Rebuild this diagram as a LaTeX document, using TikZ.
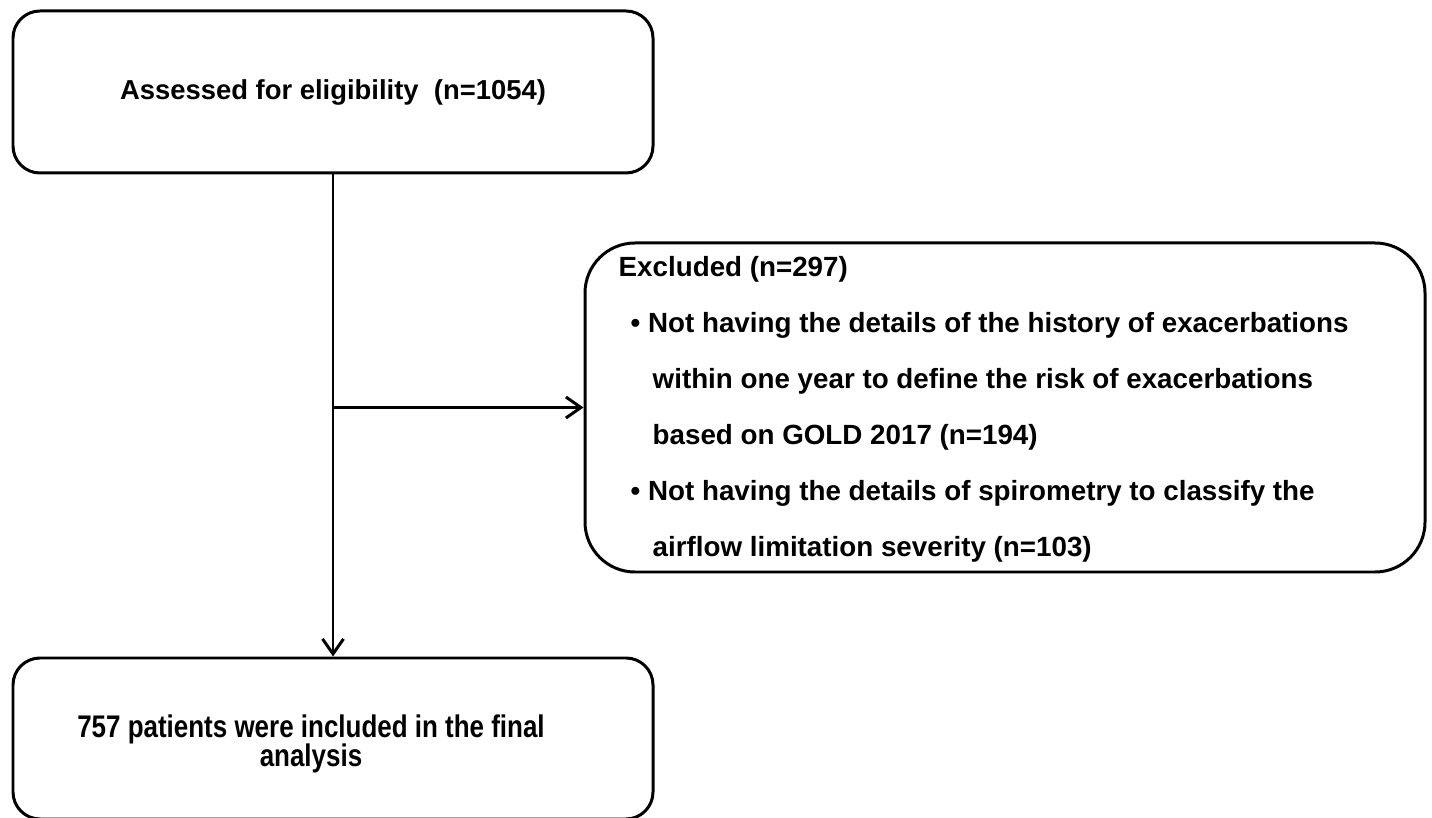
\documentclass[tikz,border=0pt]{standalone}
\usepackage{fontspec}
\setmainfont{Liberation Sans}
\newfontfamily\narrowsans[FakeStretch=0.83]{Liberation Sans}
\usepackage{tikz}
\usetikzlibrary{
  arrows.meta,
  positioning,
}
\tikzset{
  flowbox/.style={
    rectangle, rounded corners=2.7mm, draw=black, line width=0.85pt,
    minimum width=6.4cm, minimum height=1.62cm, inner sep=0pt,
    font=\fontsize{7.8}{9}\selectfont\bfseries, align=center,
  },
  exclbox/.style={
    rectangle, rounded corners=5mm, draw=black, line width=0.85pt,
    minimum width=8.4cm, minimum height=3.29cm, inner sep=0pt,
  },
  exclline/.style={
    anchor=base west, inner sep=0pt,
    font=\fontsize{7.9}{9}\selectfont\bfseries,
  },
  arrowFlow/.style={
    -{Straight Barb[length=1.5mm,width=2.1mm]}, line width=0.85pt, draw=black,
  },
}
\begin{document}
\begin{tikzpicture}
\useasboundingbox (0,0) rectangle (14.32,8.17);

% boxes
\node[flowbox] (assess) at (3.33, 7.25) {Assessed for eligibility\ \ (n=1054)};
\node[exclbox] (excl) at (10.05, 4.095) {};
\node[flowbox, minimum height=1.61cm] (final) at (3.33, 0.785) {};

% exclusion list
\node[exclline] (exclHead) at (6.18, 5.40) {Excluded (n=297)};
\node[exclline] (exclA1) at (6.30, 4.84) {\textbullet\ Not having the details of the history of exacerbations};
\node[exclline] (exclA2) at (6.52, 4.28) {within one year to define the risk of exacerbations};
\node[exclline] (exclA3) at (6.52, 3.72) {based on GOLD 2017 (n=194)};
\node[exclline] (exclB1) at (6.30, 3.16) {\textbullet\ Not having the details of spirometry to classify the};
\node[exclline] (exclB2) at (6.52, 2.60) {airflow limitation severity (n=103)};

\node[font=\narrowsans\fontsize{8.9}{8.3}\selectfont\bfseries, align=center, inner sep=0pt]
  (finalText) at (3.11, 0.73) {757 patients were included in the final\\analysis};

% connectors
\coordinate (branch) at (assess.south |- excl.west);
\draw[arrowFlow] (assess.south) -- (final.north);
\draw[arrowFlow] (branch) -- (excl.west);

\end{tikzpicture}
\end{document}
